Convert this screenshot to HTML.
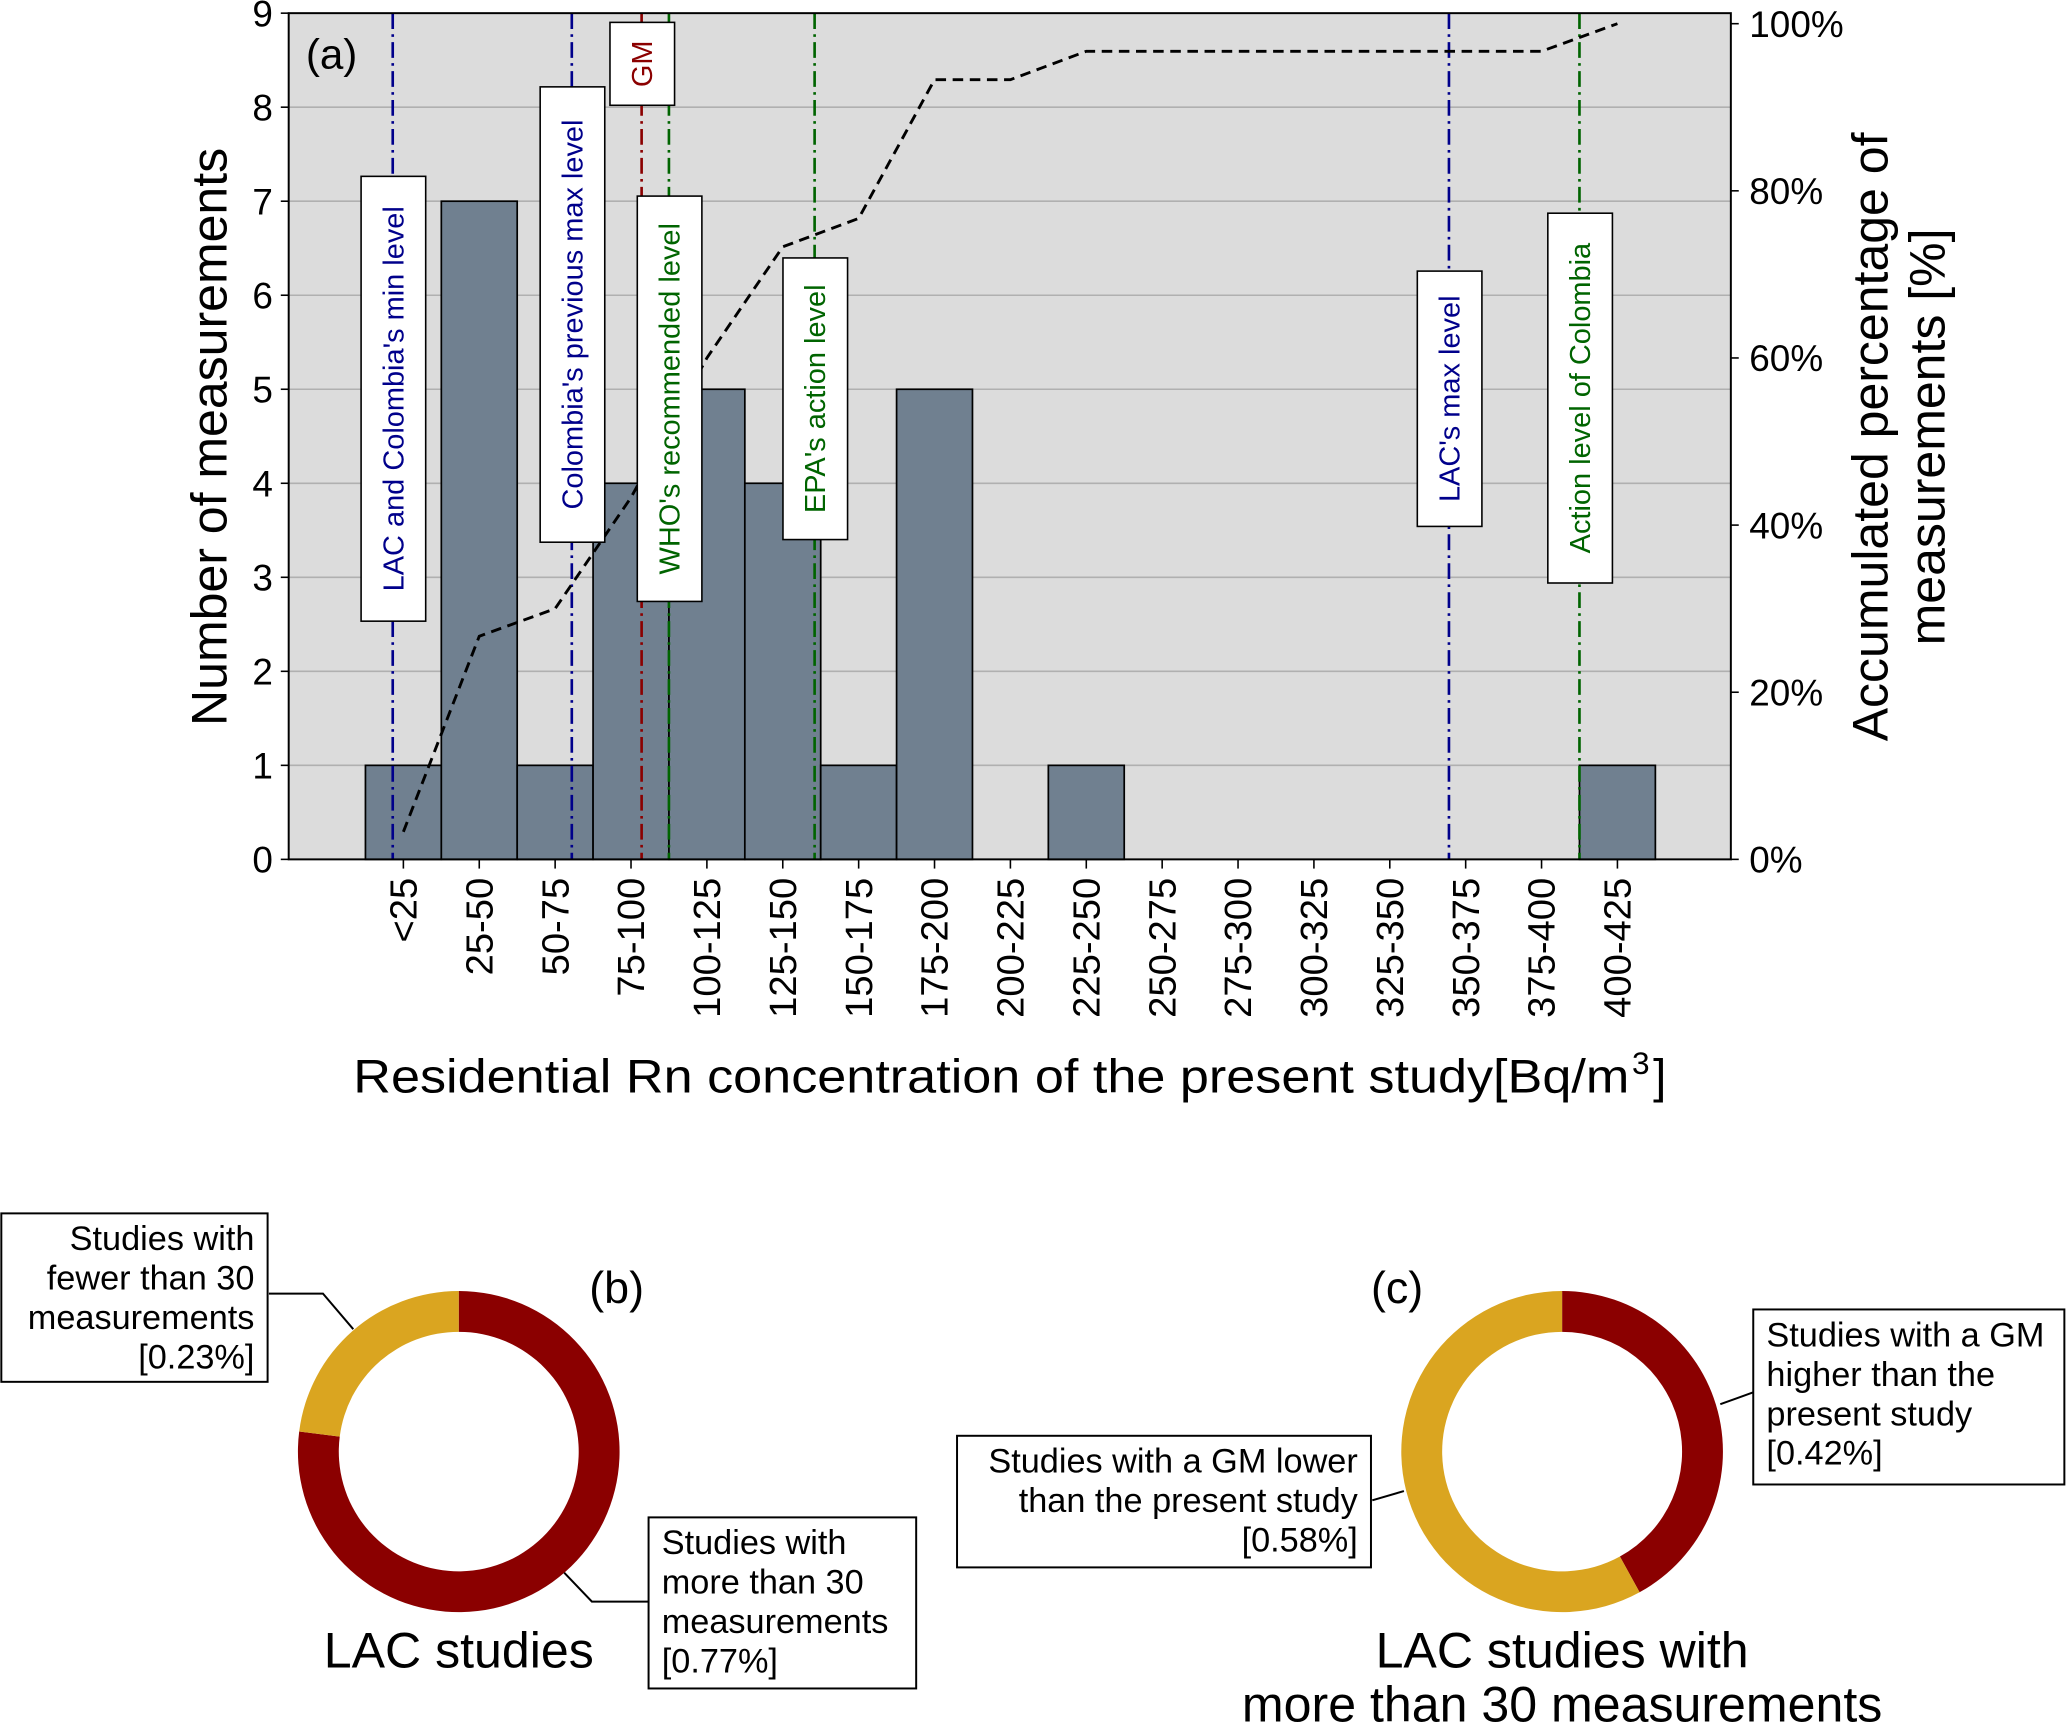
<!DOCTYPE html>
<html><head><meta charset="utf-8"><style>
html,body{margin:0;padding:0;background:#fff;}
svg{display:block;font-family:"Liberation Sans Narrow","Liberation Sans",sans-serif;}
svg text{font-weight:500;}
</style></head><body>
<svg id="fig" width="2067" height="1724" viewBox="0 0 1568 1310" preserveAspectRatio="none" xmlns="http://www.w3.org/2000/svg"></svg>
<script>
const categories=["<25","25-50","50-75","75-100","100-125","125-150","150-175","175-200","200-225","225-250","250-275","275-300","300-325","325-350","350-375","375-400","400-425"];
const counts=[1,7,1,4,5,4,1,5,0,1,0,0,0,0,0,0,1];
const cumPct=[3.3,26.7,30,43.3,60,73.3,76.7,93.3,93.3,96.7,96.7,96.7,96.7,96.7,96.7,96.7,100];
const yTicks=[0,1,2,3,4,5,6,7,8,9];
const pctTicks=[0,20,40,60,80,100];
const refValues=[9,68,91,100,148,357,400];
const refLabels=["LAC and Colombia's min level","Colombia's previous max level","GM","WHO's recommended level","EPA's action level","LAC's max level","Action level of Colombia"];
const refColors=["#00008b","#00008b","#8b0000","#006400","#006400","#00008b","#006400"];
const refBoxTop=[134,66,17,149,196,206,162];
const refBoxBot=[472,412,80,457,410,400,443];
const pieB=[0.77,0.23];
const pieC=[0.42,0.58];

const NS="http://www.w3.org/2000/svg";
const svg=document.getElementById('fig');
function mk(t,a,p){const e=document.createElementNS(NS,t);for(const k in a)e.setAttribute(k,a[k]);(p||svg).appendChild(e);return e;}
const L=219,R=1313,T=10,B=653;
const y=v=>B-(B-T)*v/9;
const yp=v=>B-(B-18)*v/100;
const xc=i=>306+57.56*i;
const xv=v=>277.2+v*57.56/25;

let bg=mk('rect',{x:L,y:T,width:R-L,height:B-T,fill:'#dcdcdc'});

yTicks.forEach(t=>{
  if(t>0&&t<9){let g=mk('line',{x1:L,x2:R,y1:y(t),y2:y(t),stroke:'#b0b0b0','stroke-width':1.2});
  }
  let tk=mk('line',{x1:L-6,x2:L,y1:y(t),y2:y(t),stroke:'#000','stroke-width':1.2});
  
  let tx=mk('text',{x:L-12,y:y(t)+10,'font-size':28,'text-anchor':'end'});tx.textContent=t;
  
});
pctTicks.forEach(t=>{
  let tk=mk('line',{x1:R,x2:R+6,y1:yp(t),y2:yp(t),stroke:'#000','stroke-width':1.2});
  
  let tx=mk('text',{x:R+14,y:yp(t)+10,'font-size':28});tx.textContent=t+'%';
  
});
counts.forEach((c,i)=>{
  if(c>0){let b=mk('rect',{x:xc(i)-28.78,y:y(c),width:57.56,height:B-y(c),fill:'#708090',stroke:'#000','stroke-width':1.3});
  }
});
categories.forEach((c,i)=>{
  let tk=mk('line',{x1:xc(i),x2:xc(i),y1:B,y2:B+7,stroke:'#000','stroke-width':1.2});
  
  let tx=mk('text',{x:0,y:0,'font-size':29,'text-anchor':'end',transform:`translate(${xc(i)+10},${B+14}) rotate(-90)`});
  tx.textContent=c;
});
refValues.forEach((v,i)=>{
  const X=xv(v);
  let ln=mk('line',{x1:X,x2:X,y1:T,y2:B,stroke:refColors[i],'stroke-width':2,'stroke-dasharray':'12,4,2,4'});
  
});
let pts=cumPct.map((p,i)=>xc(i)+','+yp(p)).join(' ');
let cl=mk('polyline',{points:pts,fill:'none',stroke:'#000','stroke-width':2.2,'stroke-dasharray':'8,5'});

refValues.forEach((v,i)=>{
  const X=xv(v),t0=refBoxTop[i],b0=refBoxBot[i];
  let r=mk('rect',{x:X-24,y:t0,width:49,height:b0-t0,fill:'#fff',stroke:'#000','stroke-width':1.2});
  
  let tx=mk('text',{x:0,y:0,'font-size':22,fill:refColors[i],'text-anchor':'middle',transform:`translate(${X+8},${(t0+b0)/2}) rotate(-90)`});
  tx.textContent=refLabels[i];
});
let fr=mk('rect',{x:L,y:T,width:R-L,height:B-T,fill:'none',stroke:'#000','stroke-width':1.5});

function txt(s,a,name){let t=mk('text',a);t.textContent=s;return t;}
txt('(a)',{x:232,y:52,'font-size':32},'panel-a-label');
txt('Number of measurements',{x:0,y:0,'font-size':38,'text-anchor':'middle',transform:'translate(172,332) rotate(-90)'},'y-axis-title');
txt('Accumulated percentage of',{x:0,y:0,'font-size':38,'text-anchor':'middle',transform:'translate(1432,332) rotate(-90)'},'y2-axis-title');
txt('measurements [%]',{x:0,y:0,'font-size':38,'text-anchor':'middle',transform:'translate(1475,332) rotate(-90)'},'y2-axis-title-2');
let xt=txt('Residential Rn concentration of the present study[Bq/m',{x:268,y:830,'font-size':36,textLength:968,lengthAdjust:'spacingAndGlyphs'},'x-axis-title');
let xt2=txt('3',{x:1238,y:816,'font-size':24},'x-axis-title-superscript');
let xt3=txt(']',{x:1254,y:830,'font-size':36},'x-axis-title-bracket');

function donut(cx,cy,vals,colors,name){
  let a=0;const ro=122,ri=91;
  vals.forEach((v,i)=>{
    const a0=a,a1=a+v*2*Math.PI;a=a1;
    const p=(r,ang)=>[cx+r*Math.sin(ang),cy-r*Math.cos(ang)];
    const lg=(a1-a0)>Math.PI?1:0;
    const [x0,y0]=p(ro,a0),[x1,y1]=p(ro,a1),[x2,y2]=p(ri,a1),[x3,y3]=p(ri,a0);
    let s=mk('path',{d:`M${x0},${y0}A${ro},${ro} 0 ${lg} 1 ${x1},${y1}L${x2},${y2}A${ri},${ri} 0 ${lg} 0 ${x3},${y3}Z`,fill:colors[i]});
    
  });
}
donut(348,1103,pieB,['#8b0000','#daa520'],'donut-b');
donut(1185,1103,pieC,['#8b0000','#daa520'],'donut-c');
txt('(b)',{x:447,y:990,'font-size':34},'panel-b-label');
txt('(c)',{x:1040,y:990,'font-size':34},'panel-c-label');
txt('LAC studies',{x:348,y:1267,'font-size':38,'text-anchor':'middle'},'donut-b-title');
txt('LAC studies with',{x:1185,y:1267,'font-size':38,'text-anchor':'middle'},'donut-c-title');
txt('more than 30 measurements',{x:1185,y:1308,'font-size':38,'text-anchor':'middle'},'donut-c-title-2');
function box(x,yy,w,h,lines,anchor,tx,name){
  let r=mk('rect',{x:x,y:yy,width:w,height:h,fill:'#fff',stroke:'#000','stroke-width':1.5});
  
  lines.forEach((s,i)=>txt(s,{x:tx,y:yy+28+i*30,'font-size':26,'text-anchor':anchor},name+'-text'));
}
function conn(pts,name){let p=mk('polyline',{points:pts,fill:'none',stroke:'#000','stroke-width':1.5});}
box(1,922,202,128,['Studies with','fewer than 30','measurements','[0.23%]'],'end',193,'annotation-fewer');
conn('204,983 245,983 268,1010','connector-fewer');
box(492,1153,203,130,['Studies with','more than 30','measurements',' [0.77%]'],'start',502,'annotation-more');
conn('428,1195 449,1217 492,1217','connector-more');
box(1330,995,236,133,['Studies with a GM','higher than the','present study',' [0.42%]'],'start',1340,'annotation-higher');
conn('1305,1067 1330,1058','connector-higher');
box(726,1091,314,100,['Studies with a GM lower','than the present study','[0.58%]'],'end',1030,'annotation-lower');
conn('1041,1140 1065,1133','connector-lower');
</script>
</body></html>
